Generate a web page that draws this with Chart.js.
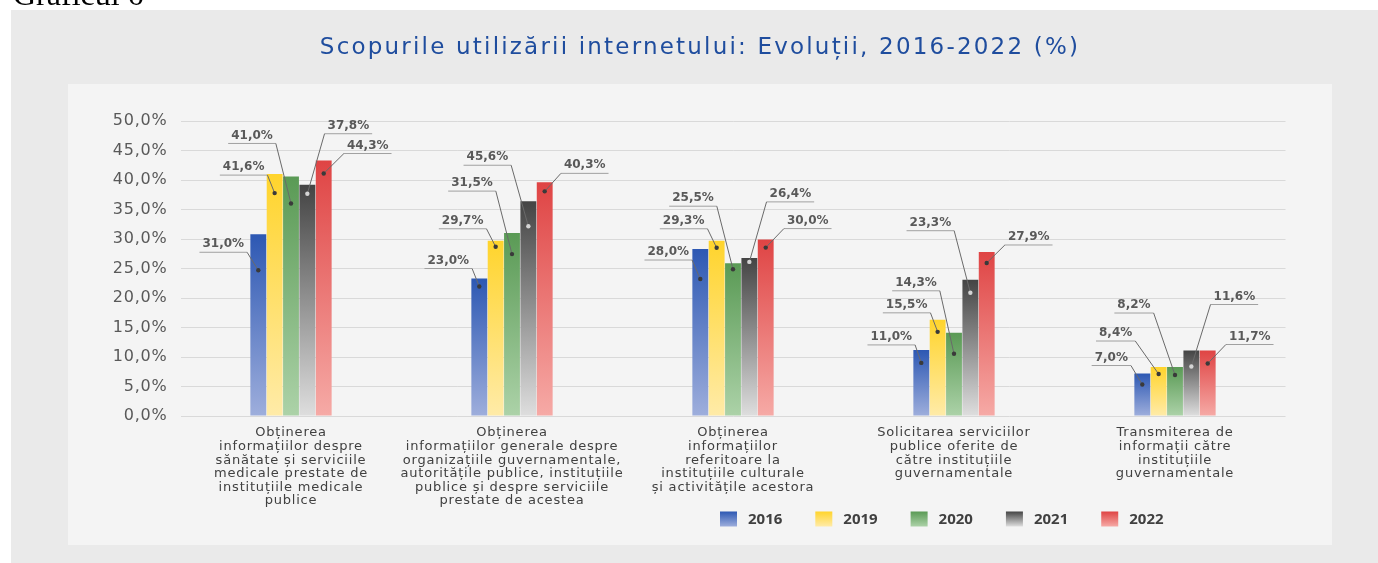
<!DOCTYPE html>
<html>
<head>
<meta charset="utf-8">
<script src="https://cdn.jsdelivr.net/npm/chart.js@4/dist/chart.umd.min.js"></script>
<style>
  html, body { margin: 0; padding: 0; background: #ffffff; }
  #wrap { width: 1378px; height: 563px; position: relative; }
</style>
</head>
<body>
<div id="wrap"><canvas id="c" width="1378" height="563"></canvas></div>
<script>
// ---------- DATA ----------
const categories = [
  ['Obținerea', 'informațiilor despre', 'sănătate și serviciile', 'medicale prestate de', 'instituțiile medicale', 'publice'],
  ['Obținerea', 'informațiilor generale despre', 'organizațiile guvernamentale,', 'autoritățile publice, instituțiile', 'publice și despre serviciile', 'prestate de acestea'],
  ['Obținerea', 'informațiilor', 'referitoare la', 'instituțiile culturale', 'și activitățile acestora'],
  ['Solicitarea serviciilor', 'publice oferite de', 'către instituțiile', 'guvernamentale'],
  ['Transmiterea de', 'informații către', 'instituțiile', 'guvernamentale']
];
const seriesNames = ['2016', '2019', '2020', '2021', '2022'];

// bar heights as drawn in the picture (%)
const values2016 = [30.8, 23.3, 28.3, 11.2, 7.2];
const values2019 = [41.0, 29.7, 29.7, 16.3, 8.3];
const values2020 = [40.6, 31.0, 25.9, 14.1, 8.3];
const values2021 = [39.2, 36.4, 26.8, 23.1, 11.1];
const values2022 = [43.3, 39.6, 29.9, 27.8, 11.1];

// data label texts as printed in the picture
const labels2016 = ['31,0%', '23,0%', '28,0%', '11,0%', '7,0%'];
const labels2019 = ['41,6%', '29,7%', '29,3%', '15,5%', '8,4%'];
const labels2020 = ['41,0%', '31,5%', '25,5%', '14,3%', '8,2%'];
const labels2021 = ['37,8%', '45,6%', '26,4%', '23,3%', '11,6%'];
const labels2022 = ['44,3%', '40,3%', '30,0%', '27,9%', '11,7%'];

const yTickValues = [0, 5, 10, 15, 20, 25, 30, 35, 40, 45, 50];
const yTickLabels = ['0,0%', '5,0%', '10,0%', '15,0%', '20,0%', '25,0%', '30,0%', '35,0%', '40,0%', '45,0%', '50,0%'];

const chartTitle = 'Scopurile utilizării internetului: Evoluții, 2016-2022 (%)';
const figureCaption = 'Graficul 6';

// ---------- STYLE ----------
const seriesValues = [values2016, values2019, values2020, values2021, values2022];
const seriesLabels = [labels2016, labels2019, labels2020, labels2021, labels2022];
const gradStops = [
  ['#2d58b3', '#9eaedc'],
  ['#ffd42c', '#ffeba8'],
  ['#5a9a55', '#acd2a8'],
  ['#444444', '#dedede'],
  ['#df4444', '#f6aaa6']
];
const dotColors = ['#3a3a3a', '#3a3a3a', '#3a3a3a', '#d4d4d4', '#3a3a3a'];

// callout layout per series/category: [dot depth below bar top, text dx, text dy] in px
const calloutLayout = [
  [[36, -35, 10], [8, -31, -18], [30, -32, 3], [13, -30, -13], [11, -31, -16]],
  [[19, -31, -7], [6, -33, -20], [7, -33, -20], [12, -31, -15], [7, -43, -34]],
  [[27, -39, -41], [21, -40, -50], [6, -40, -65], [21, -38, -50], [8, -41, -62]],
  [[9, 41, -59], [25, -41, -44], [4, 41, -64], [13, -40, -57], [16, 43, -54]],
  [[13, 44, -15], [9, 40, -17], [8, 42, -19], [11, 42, -15], [13, 42, -14]]
];

function makeGradient(ctx, top, bottom, stops) {
  const g = ctx.createLinearGradient(0, top, 0, bottom);
  g.addColorStop(0, stops[0]);
  g.addColorStop(1, stops[1]);
  return g;
}

const datasets = seriesNames.map((name, si) => ({
  label: name,
  data: seriesValues[si],
  borderWidth: 0,
  categoryPercentage: 0.37,
  barPercentage: 0.97,
  backgroundColor: (c) => {
    const chart = c.chart;
    const ys = chart.scales && chart.scales.y;
    if (c.type !== 'data' || !ys || !chart.chartArea) return gradStops[si][0];
    const top = ys.getPixelForValue(c.raw);
    const bottom = ys.getPixelForValue(0);
    if (!isFinite(top) || !isFinite(bottom) || bottom - top < 1) return gradStops[si][0];
    return makeGradient(chart.ctx, top, bottom, gradStops[si]);
  }
}));

const backgroundPlugin = {
  id: 'bgPanels',
  beforeDraw(chart) {
    const ctx = chart.ctx;
    ctx.save();
    ctx.fillStyle = '#ffffff';
    ctx.fillRect(0, 0, chart.width, chart.height);
    ctx.fillStyle = '#eaeaea';
    ctx.fillRect(11, 10, chart.width - 11, chart.height - 10);
    ctx.fillStyle = '#f4f4f4';
    ctx.fillRect(68, 84, 1332 - 68, 545 - 84);
    ctx.fillStyle = '#000000';
    ctx.font = '32px "Liberation Serif", "Times New Roman", serif';
    ctx.textBaseline = 'alphabetic';
    ctx.textAlign = 'left';
    ctx.fillText(figureCaption, 13, 5);
    // chart title
    ctx.font = '23px "DejaVu Sans", sans-serif';
    if ('letterSpacing' in ctx) ctx.letterSpacing = '2.2px';
    ctx.textAlign = 'center';
    ctx.textBaseline = 'middle';
    ctx.fillStyle = '#1f4d9e';
    ctx.fillText(chartTitle, 700, 48);
    ctx.restore();
    // slightly wider text for the axes, matching the reference's stretched lettering
    if ('letterSpacing' in ctx) ctx.letterSpacing = '0.8px';
  },
  afterDraw(chart) {
    if ('letterSpacing' in chart.ctx) chart.ctx.letterSpacing = '0px';
  }
};

const calloutPlugin = {
  id: 'callouts',
  afterDatasetsDraw(chart) {
    const ctx = chart.ctx;
    ctx.save();
    if ('letterSpacing' in ctx) ctx.letterSpacing = '0px';
    ctx.font = 'bold 12px "DejaVu Sans", sans-serif';
    ctx.textAlign = 'center';
    ctx.textBaseline = 'middle';
    seriesNames.forEach((n, si) => {
      const meta = chart.getDatasetMeta(si);
      meta.data.forEach((bar, ci) => {
        const [dd, tdx, tdy] = calloutLayout[si][ci];
        const bx = bar.x, by = bar.y;
        const dotX = bx, dotY = by + dd;
        const tx = bx + tdx, ty = by + tdy;
        const txt = seriesLabels[si][ci];
        const w = ctx.measureText(txt).width;
        const uy = ty + 8;
        const ux0 = tx - w / 2 - 3, ux1 = tx + w / 2 + 3;
        ctx.lineWidth = 1;
        ctx.strokeStyle = '#a0a0a0';
        ctx.beginPath();
        ctx.moveTo(ux0, uy);
        ctx.lineTo(ux1, uy);
        ctx.stroke();
        const sx = tdx < 0 ? ux1 : ux0;
        ctx.strokeStyle = '#6a6a6a';
        ctx.beginPath();
        ctx.moveTo(sx, uy);
        ctx.lineTo(dotX, dotY);
        ctx.stroke();
        ctx.fillStyle = dotColors[si];
        ctx.beginPath();
        ctx.arc(dotX, dotY, 2.2, 0, Math.PI * 2);
        ctx.fill();
        ctx.fillStyle = '#595959';
        ctx.fillText(txt, tx, ty);
      });
    });
    ctx.restore();
  }
};

const legendPlugin = {
  id: 'customLegend',
  afterDraw(chart) {
    const ctx = chart.ctx;
    ctx.save();
    if ('letterSpacing' in ctx) ctx.letterSpacing = '0px';
    ctx.font = 'bold 15px "Open Sans", sans-serif';
    ctx.textBaseline = 'middle';
    ctx.textAlign = 'left';
    let x = 720;
    const cy = 519;
    seriesNames.forEach((name, si) => {
      ctx.fillStyle = makeGradient(ctx, cy - 7.5, cy + 7.5, [gradStops[si][0], gradStops[si][1]]);
      ctx.fillRect(x, cy - 7.5, 17, 15);
      ctx.fillStyle = '#404040';
      ctx.fillText(name, x + 28, cy + 1);
      x += 28 + ctx.measureText(name).width + 33;
    });
    ctx.restore();
  }
};

new Chart(document.getElementById('c'), {
  type: 'bar',
  data: { labels: categories, datasets },
  options: {
    responsive: false,
    animation: false,
    devicePixelRatio: 1,
    layout: { padding: { left: 68, right: 92.5, top: 121, bottom: 0 } },
    plugins: {
      legend: { display: false },
      tooltip: { enabled: false },
      title: { display: false }
    },
    scales: {
      x: {
        grid: { display: false, drawTicks: false },
        border: { display: false },
        ticks: {
          padding: 10,
          color: '#404040',
          maxRotation: 0,
          autoSkip: false,
          font: { family: '"DejaVu Sans", sans-serif', size: 13, lineHeight: 1.05 }
        },
        afterFit(scale) { scale.height = 147; }
      },
      y: {
        min: 0,
        max: 50,
        afterBuildTicks(scale) { scale.ticks = yTickValues.map(v => ({ value: v })); },
        grid: { color: '#d9d9d9', lineWidth: 1, drawTicks: false },
        border: { display: false },
        ticks: {
          padding: 13,
          color: '#595959',
          font: { family: '"DejaVu Sans", sans-serif', size: 16 },
          callback: (v) => yTickLabels[yTickValues.indexOf(v)]
        },
        afterFit(scale) { scale.width = 112.5; }
      }
    }
  },
  plugins: [backgroundPlugin, calloutPlugin, legendPlugin]
});
</script>
</body>
</html>
